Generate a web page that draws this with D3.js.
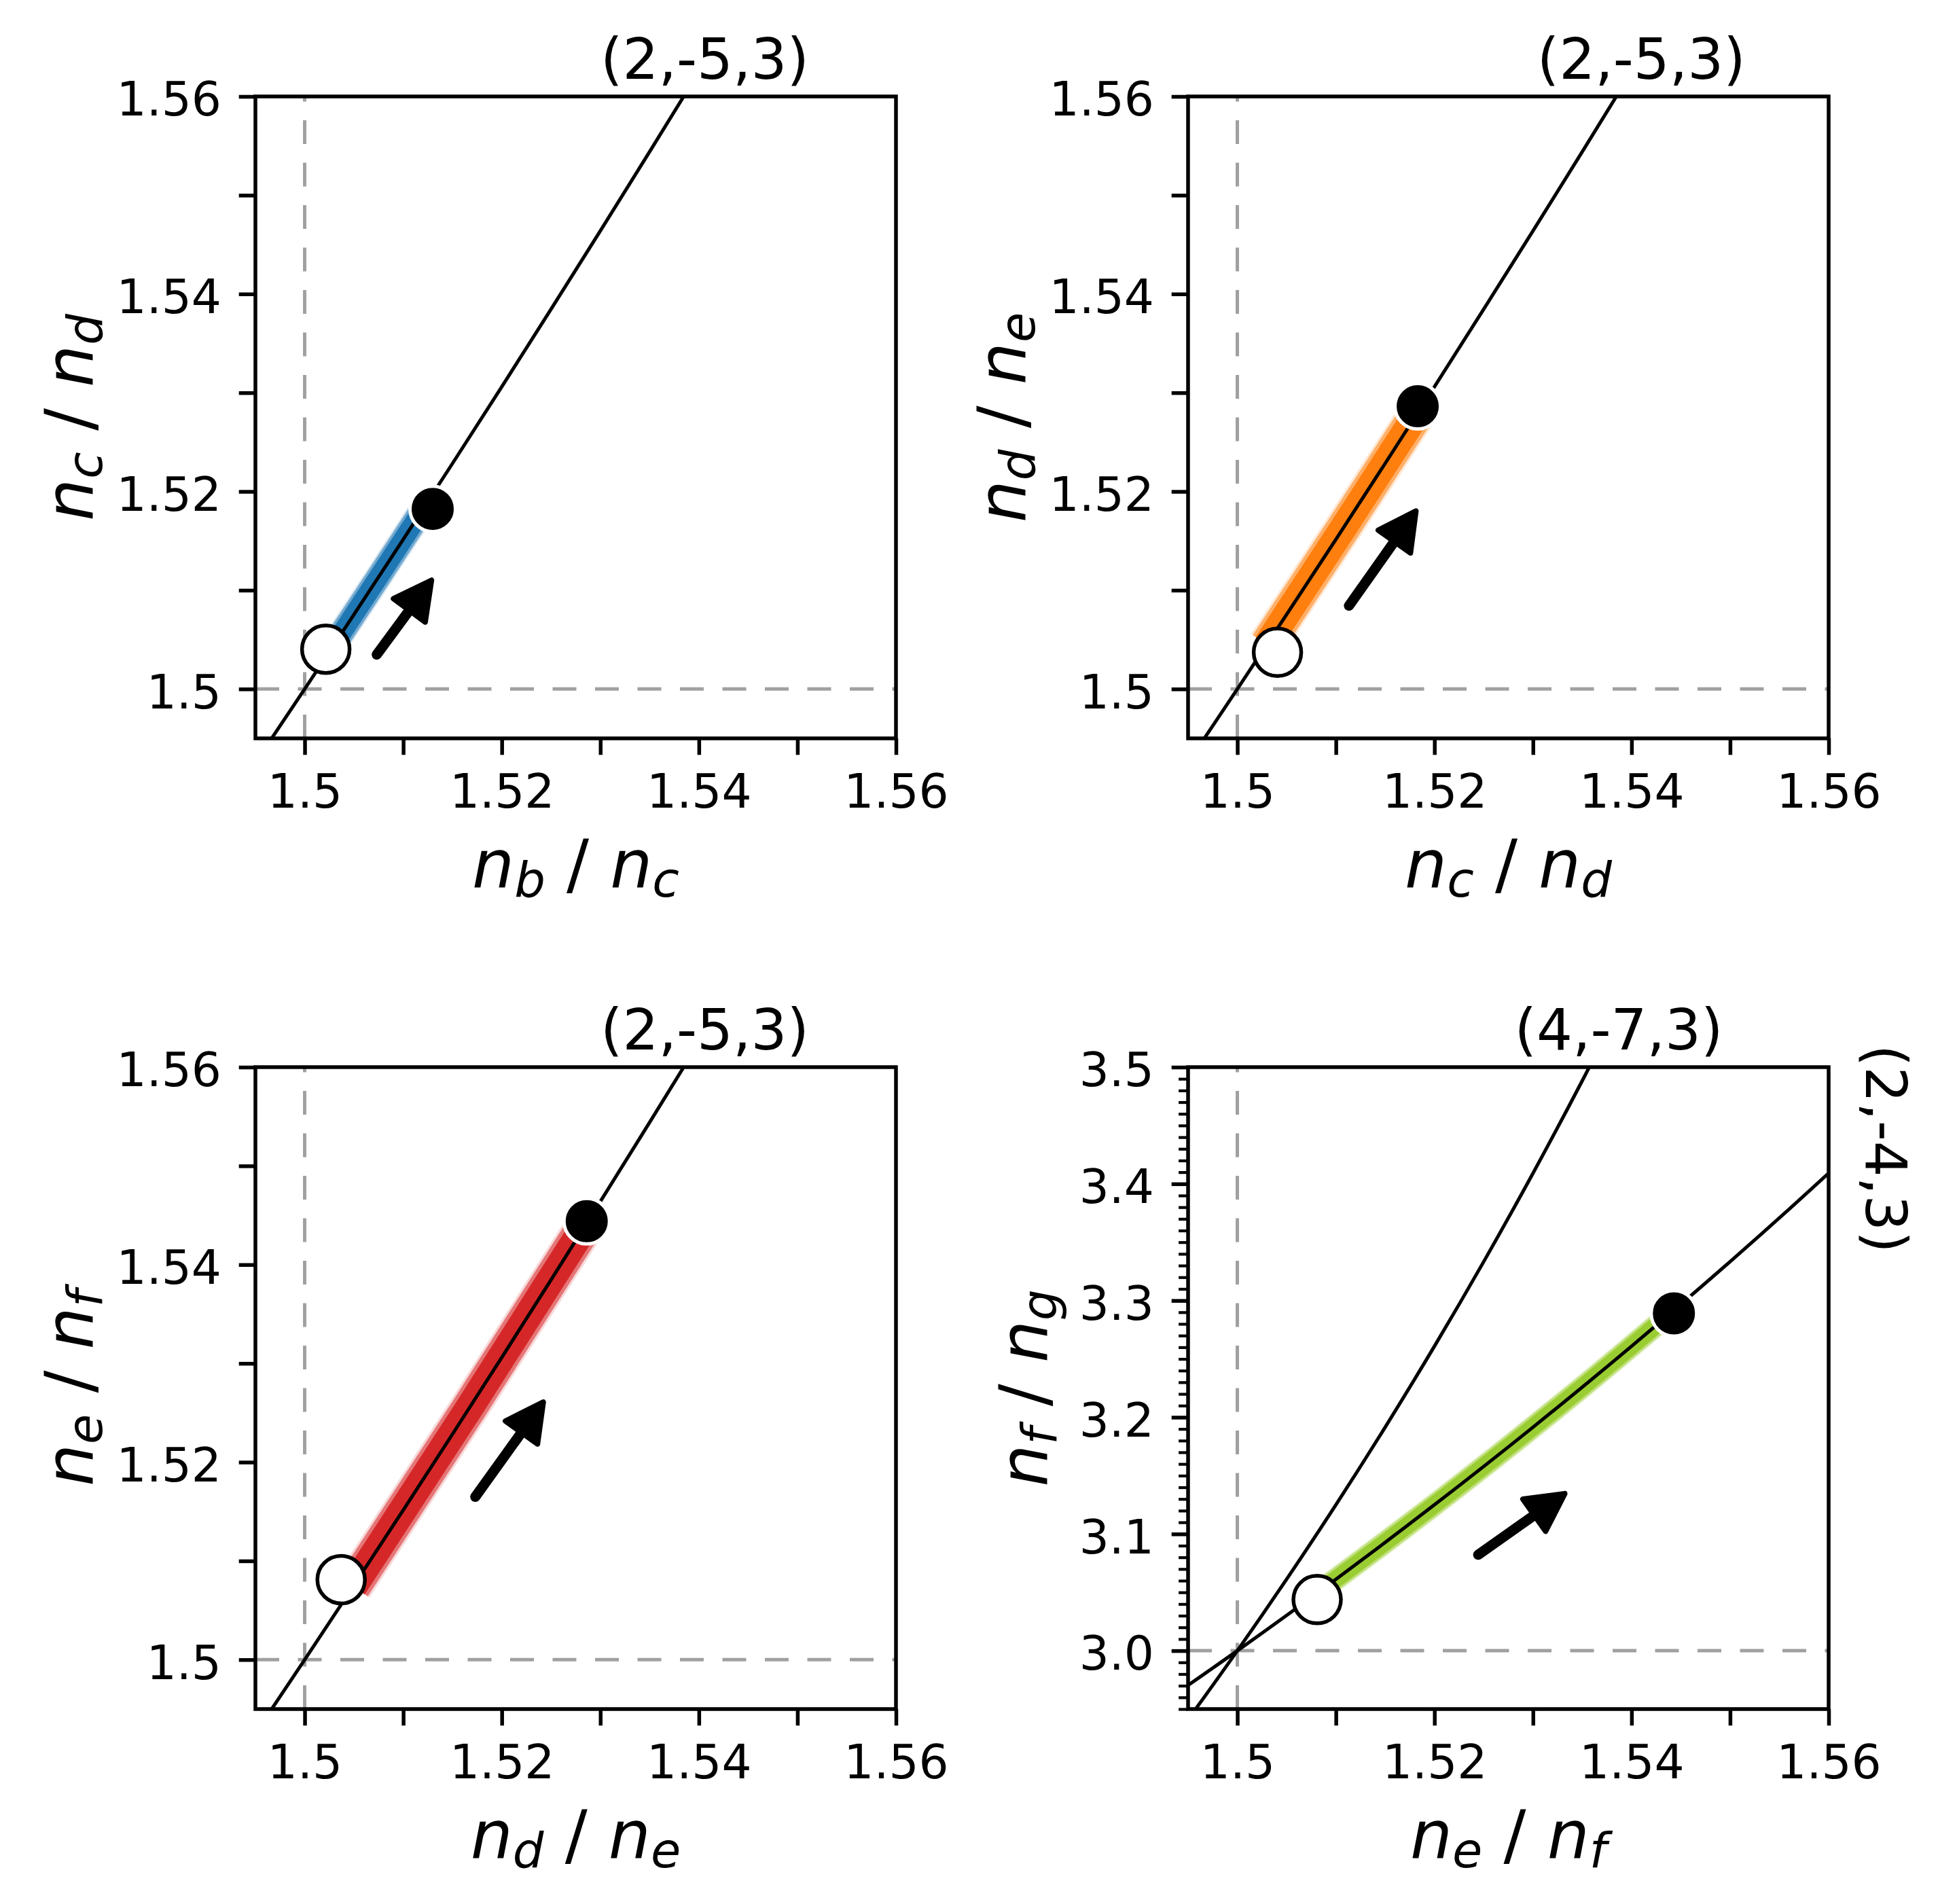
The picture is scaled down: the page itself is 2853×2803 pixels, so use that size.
<!DOCTYPE html>
<html><head><meta charset="utf-8">
<script src="https://cdn.jsdelivr.net/npm/d3@7"></script>
<style>body{margin:0;background:#fff}svg{display:block}</style>
</head><body>
<svg id="chart" width="2853" height="2803"></svg>
<script>
// ---------------- data ----------------
const xTicks = [1.50, 1.51, 1.52, 1.53, 1.54, 1.55, 1.56];
const xTickLabels = ["1.5", "", "1.52", "", "1.54", "", "1.56"];
const yTicksLow = [1.50, 1.51, 1.52, 1.53, 1.54, 1.55, 1.56];
const yTickLabelsLow = ["1.5", "", "1.52", "", "1.54", "", "1.56"];
const yTicksHigh = [3.0, 3.1, 3.2, 3.3, 3.4, 3.5];
const yTickLabelsHigh = ["3.0", "3.1", "3.2", "3.3", "3.4", "3.5"];

// resonance curves (sampled)
const res253X = [1.490, 1.495, 1.500, 1.505, 1.510, 1.515, 1.520, 1.525, 1.530, 1.535, 1.540, 1.545];
const res253Y = [1.48515, 1.49254, 1.50000, 1.50754, 1.51515, 1.52284, 1.53061, 1.53846, 1.54639, 1.55440, 1.56250, 1.57068];
const res473X = [1.490, 1.495, 1.500, 1.505, 1.510, 1.515, 1.520, 1.525, 1.530, 1.535, 1.540];
const res473Y = [2.88462, 2.94118, 3.00000, 3.06122, 3.12500, 3.19149, 3.26087, 3.33333, 3.40909, 3.48837, 3.57143];
const res243X = [1.490, 1.500, 1.510, 1.520, 1.530, 1.540, 1.550, 1.560, 1.570];
const res243Y = [2.94118, 3.00000, 3.06122, 3.12500, 3.19149, 3.26087, 3.33333, 3.40909, 3.48837];

// trajectory clouds (centre line of each band)
const band1X = [1.5025, 1.5074, 1.5123];
const band1Y = [1.50376, 1.51118, 1.51868];
const band2X = [1.5030, 1.5108, 1.5186];
const band2Y = [1.50451, 1.51638, 1.52843];
const band3X = [1.5049, 1.5167, 1.5286];
const band3Y = [1.50739, 1.52548, 1.54416];
const band4X = [1.5080, 1.5170, 1.5260, 1.5350, 1.5441];
const band4Y = [3.04878, 3.10559, 3.16456, 3.22581, 3.29020];

// initial (open) and final (filled) states
const startX = [1.50214, 1.50407, 1.50370, 1.50810];
const startY = [1.50403, 1.50371, 1.50810, 3.04380];
const endX = [1.51299, 1.51830, 1.52862, 1.54430];
const endY = [1.51824, 1.52863, 1.54440, 3.28900];

// direction arrows
const arrowTailX = [1.50701, 1.51103, 1.51701, 1.52402];
const arrowTailY = [1.50307, 1.50801, 1.51607, 3.07970];
const arrowTipX = [1.51303, 1.51828, 1.52437, 1.53345];
const arrowTipY = [1.51123, 1.51824, 1.52630, 3.13590];

// ---------------- layout ----------------
const W = 943, H = 945;
const FONT = "DejaVu Sans";
const panels = [
  {left: 376, top: 142, yDomain: [1.495, 1.56], band: [band1X, band1Y], color: "#1f77b4", bw: 36,
   xl: [["n","b"],["n","c"]], yl: [["n","c"],["n","d"]], ylOff: 240, high: false,
   curves: [[res253X, res253Y]], titles: [{t: "(2,-5,3)", x: 1.5406}]},
  {left: 1749, top: 142, yDomain: [1.495, 1.56], band: [band2X, band2Y], color: "#ff7f0e", bw: 50,
   xl: [["n","c"],["n","d"]], yl: [["n","d"],["n","e"]], ylOff: 240, high: false,
   curves: [[res253X, res253Y]], titles: [{t: "(2,-5,3)", x: 1.5410}]},
  {left: 376, top: 1571, yDomain: [1.495, 1.56], band: [band3X, band3Y], color: "#d62728", bw: 52,
   xl: [["n","d"],["n","e"]], yl: [["n","e"],["n","f"]], ylOff: 240, high: false,
   curves: [[res253X, res253Y]], titles: [{t: "(2,-5,3)", x: 1.5406}]},
  {left: 1749, top: 1571, yDomain: [2.95, 3.5], band: [band4X, band4Y], color: "#9acd32", bw: 31,
   xl: [["n","e"],["n","f"]], yl: [["n","f"],["n","g"]], ylOff: 208, high: true,
   curves: [[res473X, res473Y], [res243X, res243Y]], titles: [{t: "(4,-7,3)", x: 1.5387}]}
];

const svg = d3.select("#chart");
svg.append("rect").attr("width", 2853).attr("height", 2803).attr("fill", "#fff");

function mathLabel(textSel, parts) {
  textSel.style("white-space", "pre");
  parts.forEach((p, i) => {
    if (i > 0) textSel.append("tspan").attr("dy", -14).style("font-style", "normal").text(" / ");
    textSel.append("tspan").style("font-style", "italic").text(p[0]);
    textSel.append("tspan").style("font-style", "italic").attr("font-size", 72).attr("dy", 14).text(p[1]);
  });
}

panels.forEach((P, k) => {
  const x = d3.scaleLinear().domain([1.495, 1.56]).range([P.left, P.left + W]);
  const y = d3.scaleLinear().domain(P.yDomain).range([P.top + H, P.top]);
  const g = svg.append("g");
  const clipId = "clip" + k;
  svg.append("clipPath").attr("id", clipId).append("rect")
    .attr("x", P.left).attr("y", P.top).attr("width", W).attr("height", H);
  const plot = g.append("g").attr("clip-path", `url(#${clipId})`);

  // reference dashed lines
  const yRef = P.high ? 3.0 : 1.5;
  plot.append("line").attr("x1", x(1.5)).attr("x2", x(1.5)).attr("y1", P.top + H).attr("y2", P.top)
    .attr("stroke", "#a0a0a0").attr("stroke-width", 5).attr("stroke-dasharray", "35 27.5");
  plot.append("line").attr("x1", P.left).attr("x2", P.left + W).attr("y1", y(yRef)).attr("y2", y(yRef))
    .attr("stroke", "#a0a0a0").attr("stroke-width", 5).attr("stroke-dasharray", "35 27.5");

  // trajectory band (dense cloud of samples)
  const bl = d3.line().x(d => x(d[0])).y(d => y(d[1])).curve(d3.curveMonotoneX);
  const bpts = P.band[0].map((v, i) => [v, P.band[1][i]]);
  [[1.12, 0.18], [1.0, 0.55], [0.8, 1.0]].forEach(([f, op]) => {
    plot.append("path").attr("d", bl(bpts)).attr("fill", "none").attr("stroke", P.color)
      .attr("stroke-width", P.bw * f).attr("stroke-opacity", op).attr("stroke-linecap", "butt");
  });

  // resonance curves
  P.curves.forEach(c => {
    const pts = c[0].map((v, i) => [v, c[1][i]]);
    plot.append("path").attr("d", bl(pts)).attr("fill", "none")
      .attr("stroke", "#000").attr("stroke-width", 5);
  });

  // arrow
  const tx = x(arrowTailX[k]), ty = y(arrowTailY[k]);
  const hx = x(arrowTipX[k]), hy = y(arrowTipY[k]);
  const L = Math.hypot(hx - tx, hy - ty);
  const ux = (hx - tx) / L, uy = (hy - ty) / L;
  const px = -uy, py = ux;
  g.append("line")
    .attr("x1", tx + ux * 7.5).attr("y1", ty + uy * 7.5)
    .attr("x2", hx - ux * 50).attr("y2", hy - uy * 50)
    .attr("stroke", "#000").attr("stroke-width", 15).attr("stroke-linecap", "round");
  const vx = hx - ux * 4, vy = hy - uy * 4;
  const bx = hx - ux * 59, by = hy - uy * 59;
  g.append("path")
    .attr("d", `M${vx},${vy}L${bx + px * 29},${by + py * 29}L${bx - px * 29},${by - py * 29}Z`)
    .attr("fill", "#000").attr("stroke", "#000").attr("stroke-width", 8).attr("stroke-linejoin", "round");

  // initial / final states
  g.append("circle").attr("cx", x(startX[k])).attr("cy", y(startY[k])).attr("r", 35)
    .attr("fill", "#fff").attr("stroke", "#000").attr("stroke-width", 5.5);
  g.append("circle").attr("cx", x(endX[k])).attr("cy", y(endY[k])).attr("r", 33.5)
    .attr("fill", "#000").attr("stroke", "#fff").attr("stroke-width", 5);

  // axes
  const xAxis = d3.axisBottom(x).tickValues(xTicks).tickFormat((d, i) => xTickLabels[i])
    .tickSize(24.3).tickPadding(28);
  const gx = g.append("g").attr("transform", `translate(0,${P.top + H})`).call(xAxis);
  const yAxis = d3.axisLeft(y)
    .tickValues(P.high ? yTicksHigh : yTicksLow)
    .tickFormat((d, i) => (P.high ? yTickLabelsHigh : yTickLabelsLow)[i])
    .tickSize(24.3).tickPadding(25.7);
  const gy = g.append("g").attr("transform", `translate(${P.left},0)`).call(yAxis);
  if (P.high) {
    const minor = d3.range(295, 351).map(v => v / 100).filter(v => Math.round(v * 100) % 10 !== 0);
    const gm = g.append("g").attr("transform", `translate(${P.left},0)`)
      .call(d3.axisLeft(y).tickValues(minor).tickFormat("").tickSize(13.9));
    gm.select(".domain").remove();
    gm.selectAll(".tick line").attr("stroke-width", 4.2);
  }
  [gx, gy].forEach(a => {
    a.select(".domain").remove();
    a.selectAll(".tick line").attr("stroke-width", 5.5);
    a.selectAll(".tick text").attr("font-family", FONT).attr("font-size", 69.4).attr("fill", "#000");
  });
  gy.selectAll(".tick text").attr("dy", "0.40em");

  // frame
  g.append("rect").attr("x", P.left).attr("y", P.top).attr("width", W).attr("height", H)
    .attr("fill", "none").attr("stroke", "#000").attr("stroke-width", 5.5);

  // titles (resonance labels)
  P.titles.forEach(t => {
    g.append("text").attr("x", x(t.x)).attr("y", P.top - 26).attr("text-anchor", "middle")
      .attr("font-family", FONT).attr("font-size", 83.3).attr("fill", "#000").text(t.t);
  });
  if (P.high) {
    g.append("text").attr("transform", `translate(${P.left + W + 55},${y(3.43)}) rotate(90)`)
      .attr("text-anchor", "middle").attr("font-family", FONT).attr("font-size", 83.3)
      .attr("fill", "#000").text("(2,-4,3)");
  }

  // axis labels
  const xl = g.append("text").attr("x", P.left + W / 2).attr("y", P.top + H + 219)
    .attr("text-anchor", "middle").attr("font-family", FONT).attr("font-size", 98).attr("fill", "#000");
  mathLabel(xl, P.xl);
  const yl = g.append("text")
    .attr("transform", `translate(${P.left - P.ylOff},${P.top + H / 2}) rotate(-90)`)
    .attr("text-anchor", "middle").attr("font-family", FONT).attr("font-size", 98).attr("fill", "#000");
  mathLabel(yl, P.yl);
});
</script>
</body></html>
